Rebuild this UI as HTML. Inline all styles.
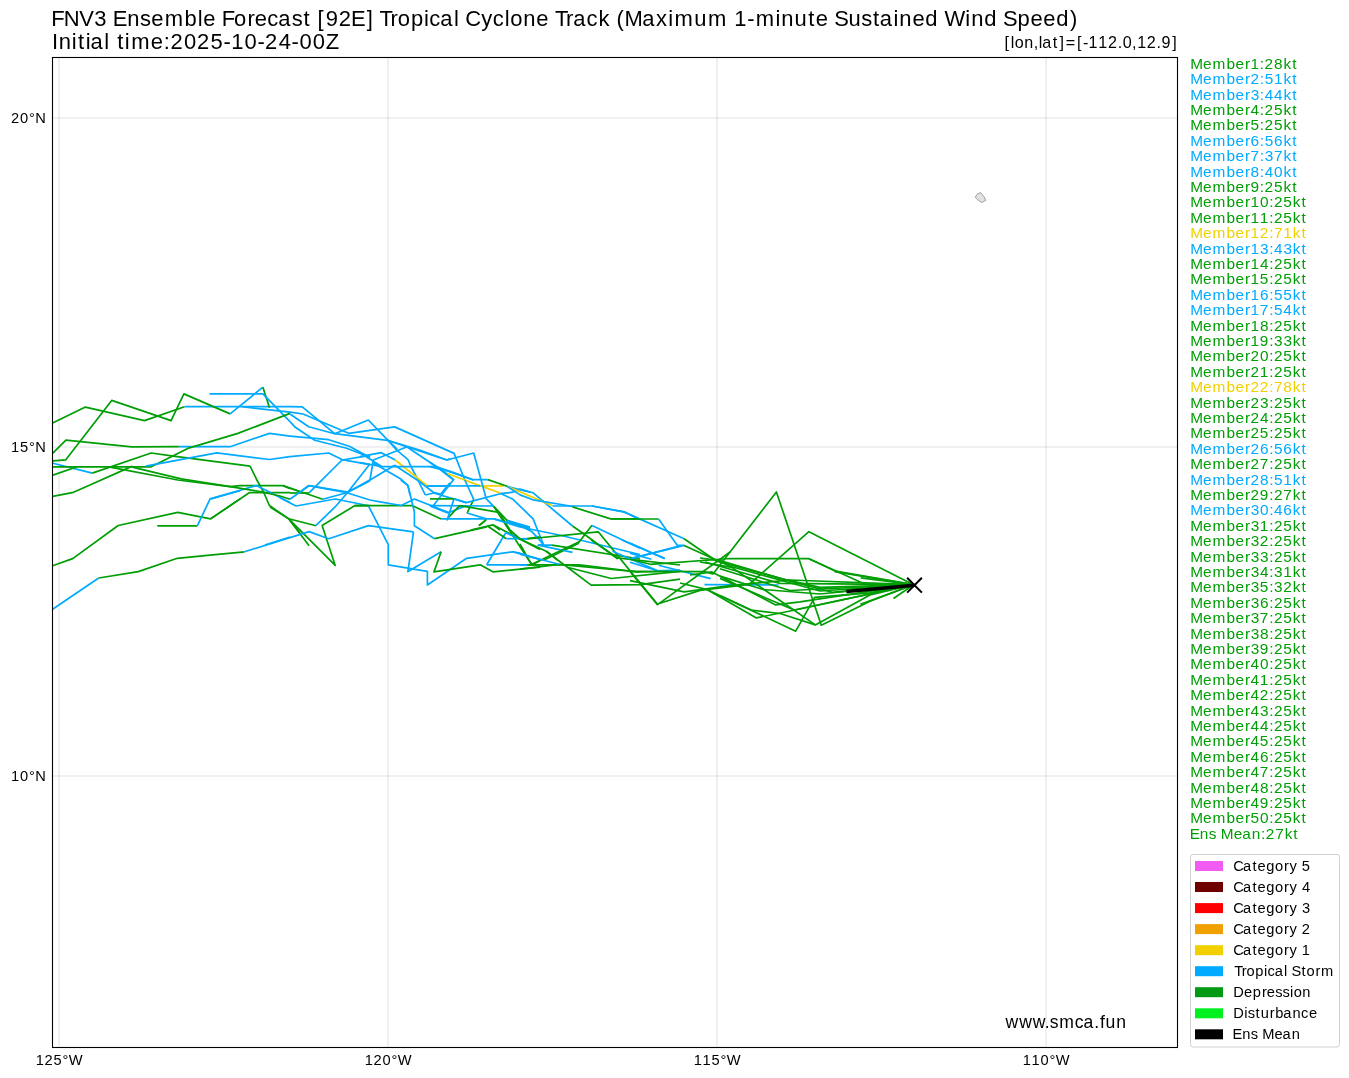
<!DOCTYPE html>
<html><head><meta charset="utf-8"><style>
html,body{margin:0;padding:0;background:#fff;}
svg{display:block;will-change:transform;}
text{font-family:"Liberation Sans",sans-serif;}
</style></head><body>
<svg width="1349" height="1078" viewBox="0 0 1349 1078">
<rect width="1349" height="1078" fill="#fff"/>
<line x1="59" y1="58" x2="59" y2="1047" stroke="#000" stroke-opacity="0.058" stroke-width="2"/>
<line x1="388" y1="58" x2="388" y2="1047" stroke="#000" stroke-opacity="0.058" stroke-width="2"/>
<line x1="717" y1="58" x2="717" y2="1047" stroke="#000" stroke-opacity="0.058" stroke-width="2"/>
<line x1="1046" y1="58" x2="1046" y2="1047" stroke="#000" stroke-opacity="0.058" stroke-width="2"/>
<line x1="53" y1="118" x2="1177" y2="118" stroke="#000" stroke-opacity="0.058" stroke-width="2"/>
<line x1="53" y1="447" x2="1177" y2="447" stroke="#000" stroke-opacity="0.058" stroke-width="2"/>
<line x1="53" y1="776" x2="1177" y2="776" stroke="#000" stroke-opacity="0.058" stroke-width="2"/>
<polygon points="980.4,192.3 984.2,197 985.7,200.4 981.5,202.5 977.3,199.4 975.3,197.3 977,194.3 979.3,193.2" fill="#e2e2e2" stroke="#8a8a8a" stroke-width="0.8"/>
<g fill="none" stroke-width="1.7" stroke-linejoin="round" stroke-linecap="butt"><polyline points="52.6,423.0 85.4,407.1 144.5,420.6 184.5,406.7" stroke="#009e05"/><polyline points="184.5,406.7 290,406.7" stroke="#00aaff"/><polyline points="52.9,460.9 65.8,459.8 111.7,400.4 171.1,420.6 183.9,393.9 230.1,413.9" stroke="#009e05"/><polyline points="230.1,413.9 262.9,387.2" stroke="#00aaff"/><polyline points="262.9,387.2 269.5,407.8" stroke="#009e05"/><polyline points="209.5,393.9 262.9,393.9 290,421.7" stroke="#00aaff"/><polyline points="242.3,406.7 290,412.2" stroke="#00aaff"/><polyline points="52.6,453.4 65.9,440.2 131.7,446.9 178.9,446.7" stroke="#009e05"/><polyline points="178.9,446.7 230.1,446.7 269.5,433.4 290,436.2" stroke="#00aaff"/><polyline points="52.9,463.3 92.3,473.1" stroke="#00aaff"/><polyline points="92.3,473.1 151.1,453.0 173.4,456.1 250.1,466.2" stroke="#009e05"/><polyline points="52.9,466.9 151.2,466.8 187.8,448.4 237.9,433.4 290,413.4" stroke="#009e05"/><polyline points="145.7,466.2 216.7,452.8 269.5,459.5 290,456.7" stroke="#00aaff"/><polyline points="52.9,475.1 76.5,467.0" stroke="#009e05"/><polyline points="90,485 132.3,466.1" stroke="#009e05"/><polyline points="110,467.2 177.8,480 230.1,486.7 240,485.6" stroke="#009e05"/><polyline points="132.3,467.2 181.2,478.9 230.1,486.7" stroke="#009e05"/><polyline points="118.2,525.5 177.8,512.3 210.6,518.9 240,498.9" stroke="#009e05"/><polyline points="157.3,525.8 197.3,525.8" stroke="#009e05"/><polyline points="197.3,525.8 210.1,498.9 240,490.6" stroke="#00aaff"/><polyline points="52.6,496.3 72.3,492.7 90,485" stroke="#009e05"/><polyline points="250.1,466.2 256.9,480 264,493 269.4,505.5 289,519.1" stroke="#009e05"/><polyline points="240,485.6 283,485.6 290,488.8" stroke="#009e05"/><polyline points="210.6,518.9 249.2,492.7 290,492.7" stroke="#009e05"/><polyline points="211,498.9 256.4,485.6 290,502.5" stroke="#00aaff"/><polyline points="265,545 290,537" stroke="#00aaff"/><polyline points="290,406.7 302.3,406.9 334.7,433.7 368.3,420 387.3,439.7 397.3,449.3" stroke="#00aaff"/><polyline points="290,412.2 303,414 348.7,433.3 394.7,426.9 454.1,453.4 464.8,480" stroke="#00aaff"/><polyline points="290,414 308.7,426.7 334.7,433.7 387.3,440.3 418.7,449.7" stroke="#00aaff"/><polyline points="290,421.7 295.3,427.3 314.7,440.3 346.7,448.3 370,457.3" stroke="#00aaff"/><polyline points="290,436.2 328.7,439.7 349.3,446.3 361.3,452.7 370,457.3" stroke="#00aaff"/><polyline points="290,456.7 328.7,453 342,459.6 370,464.7" stroke="#00aaff"/><polyline points="309.3,492.7 342,460 370,455.3" stroke="#00aaff"/><polyline points="369.3,464.7 348,492 370,480" stroke="#00aaff"/><polyline points="301.3,491.3 308.7,485.7 348,492" stroke="#00aaff"/><polyline points="283.3,485.7 300,491.7" stroke="#009e05"/><polyline points="290,493 309.3,493" stroke="#009e05"/><polyline points="387.3,439.7 397.3,450.7 408,459.7 410.7,466 416.7,477.3 425.3,495" stroke="#00aaff"/><polyline points="387.3,440.3 406.7,446.7 446.7,460 450,458.7" stroke="#00aaff"/><polyline points="406.7,446.7 435.3,466 450,476" stroke="#00aaff"/><polyline points="360,456.7 381.3,452.7 395.3,460" stroke="#00aaff"/><polyline points="395.3,460 427.3,486" stroke="#f2d000"/><polyline points="427.3,486 450,486" stroke="#00aaff"/><polyline points="360,452.7 382,466.7 436.7,466.7 450,471.3" stroke="#00aaff"/><polyline points="360,462.7 382,466.7" stroke="#00aaff"/><polyline points="370,480 373.3,460 407.3,446.7" stroke="#00aaff"/><polyline points="360,486 394.7,465.3" stroke="#00aaff"/><polyline points="394.7,465.3 418.7,481 434,492.7 440.7,494" stroke="#00aaff"/><polyline points="373.3,463 401.3,479.3 408,486 410,495" stroke="#00aaff"/><polyline points="450,482.7 440.7,494" stroke="#00aaff"/><polyline points="283.3,485.7 322.7,499.3" stroke="#009e05"/><polyline points="322.7,499.3 346.7,492.7 370,480.7" stroke="#00aaff"/><polyline points="308.7,485.7 346.7,492.7 370,500" stroke="#00aaff"/><polyline points="290,499.3 308.7,485.7" stroke="#00aaff"/><polyline points="230.1,486.7 260,491.5 280,496 290,499.3" stroke="#009e05"/><polyline points="280,497.7 296,506 335.3,499 370,506" stroke="#00aaff"/><polyline points="348,492 335.3,506.7 316,525.3" stroke="#00aaff"/><polyline points="270,507 288.7,518.7 316,525.7" stroke="#009e05"/><polyline points="288.7,518.7 300,533.3" stroke="#009e05"/><polyline points="321.7,525.7 354.7,505.7 370,505.7" stroke="#009e05"/><polyline points="289,519.1 309.1,545.8" stroke="#009e05"/><polyline points="289,519.1 335.2,565.4 322.2,525.7" stroke="#009e05"/><polyline points="52.6,565.7 72.7,558.6 118.2,525.5" stroke="#009e05"/><polyline points="52.6,609.2 98.7,578" stroke="#00aaff"/><polyline points="98.7,578 138.3,571.6 177.3,558.3 210,555.1" stroke="#009e05"/><polyline points="210,555.1 244.5,551.8" stroke="#009e05"/><polyline points="244.5,551.8 309.1,531.6 328.7,538.7 368.5,525.6 413.5,531.8" stroke="#00aaff"/><polyline points="418.7,449.7 447,460 473.7,453 481.1,480" stroke="#00aaff"/><polyline points="430,462.3 437.4,467.1 453.7,480" stroke="#00aaff"/><polyline points="430,466.7 447.8,471.1 473.7,480" stroke="#00aaff"/><polyline points="436.7,466.7 444.8,473 453.7,479.6 433,506" stroke="#00aaff"/><polyline points="447.8,473.7 480.4,485.9 500.4,493" stroke="#f2d000"/><polyline points="480.4,485.9 504.1,485.9" stroke="#f2d000"/><polyline points="427.3,486 480.4,485.9" stroke="#00aaff"/><polyline points="450,471.3 472.6,479.6 487.8,479.6" stroke="#00aaff"/><polyline points="487.8,479.6 507.1,486.3" stroke="#009e05"/><polyline points="507.1,486.3 530,492.2" stroke="#00aaff"/><polyline points="464.8,480 473.7,499.3" stroke="#00aaff"/><polyline points="473.7,499.3 467.1,513" stroke="#009e05"/><polyline points="481.1,480 486.3,498.9 493.7,506.3" stroke="#00aaff"/><polyline points="425.3,495 433.7,493 466.3,502.6 500.4,493.7 513,492.2" stroke="#00aaff"/><polyline points="430,498.9 454.5,498.9" stroke="#009e05"/><polyline points="454.5,498.9 466.3,502.6" stroke="#00aaff"/><polyline points="430,505.6 493.7,506" stroke="#00aaff"/><polyline points="430,506 447.8,513 466.3,505.6" stroke="#00aaff"/><polyline points="459.6,505.6 447.8,518.2" stroke="#009e05"/><polyline points="459.6,505.6 498.9,512.3" stroke="#009e05"/><polyline points="354.7,505.7 412,505.5 441.1,519.1" stroke="#009e05"/><polyline points="441.1,518.9 493.7,518.9 530,527.8" stroke="#00aaff"/><polyline points="453.7,499.7 447,520.4" stroke="#00aaff"/><polyline points="493.7,506.3 507,520.4 530,530" stroke="#009e05"/><polyline points="498.9,512.3 510,530" stroke="#009e05"/><polyline points="467,513 486.3,518.9" stroke="#00aaff"/><polyline points="507,520.4 530,527" stroke="#00aaff"/><polyline points="470.8,530 493,524.9 500,530" stroke="#009e05"/><polyline points="478.9,525.6 486.3,519.7" stroke="#009e05"/><polyline points="370,500 380,501.9 401.3,505.5 414.4,499 448.8,512.6" stroke="#00aaff"/><polyline points="400.8,480 407.9,485.3 414.4,512 414.4,525.7 434.6,538.7" stroke="#00aaff"/><polyline points="434.6,538.7 486.7,526.9" stroke="#009e05"/><polyline points="479,525.7 485.6,520.3" stroke="#009e05"/><polyline points="413.5,531.8 407.9,571.9" stroke="#00aaff"/><polyline points="368.7,506.3 388.3,544.6 388.3,564.8 427.4,571.3 427.4,585 466.6,558.3 512.8,551.8 540,559.5" stroke="#00aaff"/><polyline points="407.3,571.9 441.1,551.8" stroke="#00aaff"/><polyline points="441.1,551.8 434,571.9 480.2,564.8 493.3,571.9 540,567.2" stroke="#009e05"/><polyline points="486.7,564.8 505.7,532.8" stroke="#00aaff"/><polyline points="486.7,564.8 527.1,564.8" stroke="#00aaff"/><polyline points="527.1,564.8 540,564.8" stroke="#009e05"/><polyline points="493.9,506.7 531.8,564.8 540,560.7" stroke="#009e05"/><polyline points="487.9,526.3 506.3,538.7" stroke="#009e05"/><polyline points="506.3,538.7 527.1,538.7" stroke="#00aaff"/><polyline points="527.1,538.7 540,536.9" stroke="#009e05"/><polyline points="493.3,525.1 540,549.4" stroke="#009e05"/><polyline points="513,492.2 520,489.1 532.9,492.7 572.5,526" stroke="#00aaff"/><polyline points="572.5,526 584,534 617.9,559" stroke="#009e05"/><polyline points="507.3,486.5 552.5,505.8" stroke="#f2d000"/><polyline points="552.5,506 592,506 624.1,511.8 640,519.4" stroke="#00aaff"/><polyline points="507.1,486.3 520,494.9 532.9,499.8 573.4,506.5" stroke="#00aaff"/><polyline points="572.5,506.9 610.7,518.9 640,518.9" stroke="#009e05"/><polyline points="500.6,493.4 513,499.3 533.1,518.9 543.1,543.8 538.2,545.2 552,545.2" stroke="#00aaff"/><polyline points="507,520.4 520,525.6 531.6,531.4 543.1,543.8" stroke="#00aaff"/><polyline points="493.7,518.9 520,527 559.1,535 640,554.5" stroke="#00aaff"/><polyline points="527.1,539 598.3,531.8 657.6,604.6" stroke="#009e05"/><polyline points="505.7,532.8 520,539 527.1,539" stroke="#00aaff"/><polyline points="592,525.2 577.8,543.8 544,560" stroke="#009e05"/><polyline points="592,525.6 640,548.3" stroke="#00aaff"/><polyline points="552,545.2 640,559" stroke="#009e05"/><polyline points="510,530 520,539 546.7,551.4 557.4,560" stroke="#009e05"/><polyline points="520,543.8 528.9,560" stroke="#009e05"/><polyline points="512.8,551.8 520,553.2 542.2,560" stroke="#00aaff"/><polyline points="538.2,545.2 572.5,552.3" stroke="#00aaff"/><polyline points="528.9,560 531.9,564.3 579.3,541.8" stroke="#009e05"/><polyline points="546.1,551.3 591.2,585.1 640.6,584.6 680,579.1" stroke="#009e05"/><polyline points="520,564.9 527.1,564.9" stroke="#00aaff"/><polyline points="527.1,564.9 579.3,564.9 638.6,572 680,571" stroke="#009e05"/><polyline points="520,569.1 559.1,564.3 638.6,572" stroke="#009e05"/><polyline points="520,554.2 559.1,564.3" stroke="#00aaff"/><polyline points="591.2,540 617.3,557.8 680,565" stroke="#009e05"/><polyline points="567.4,567.3 611.3,578.5 680,571.4" stroke="#009e05"/><polyline points="622,540 664.7,558.4" stroke="#00aaff"/><polyline points="632.7,558.4 680,545.9" stroke="#00aaff"/><polyline points="612.5,551.3 657.6,570.8 680,570.2" stroke="#00aaff"/><polyline points="592,506 623.8,511.9 684.1,538.8" stroke="#00aaff"/><polyline points="684.1,538.8 716.7,561.2 783,579.1 820,587.3 913.5,584.7" stroke="#009e05"/><polyline points="611.1,519 658.6,519" stroke="#009e05"/><polyline points="658.6,519 677.4,545.4 684.1,545.4 632,558.2" stroke="#00aaff"/><polyline points="684.1,545.4 730,566.3 820,591 913.5,584.7" stroke="#009e05"/><polyline points="630,542.9 664.7,558.7" stroke="#00aaff"/><polyline points="630,553.1 651.4,559.2" stroke="#00aaff"/><polyline points="630,562.2 656.5,570.4" stroke="#00aaff"/><polyline points="658.6,565.3 710.6,578.6" stroke="#00aaff"/><polyline points="704.5,584.7 778.6,585" stroke="#00aaff"/><polyline points="630,571.4 704.5,571.6 713,574 776.4,492 821.3,625.2 870,601.3 913.5,584.7" stroke="#009e05"/><polyline points="630,559.2 650.4,564.3 730,558.5 809,558.7 835.6,571.2 913.5,584.7" stroke="#009e05"/><polyline points="809,558.7 864.6,584 913.5,584.7" stroke="#009e05"/><polyline points="630,571.4 657.6,604.6 730,552" stroke="#009e05"/><polyline points="660,603.2 700,590.4 749,584.5 808.9,531.7 913.5,584.7" stroke="#009e05"/><polyline points="630,580.6 684.1,591.8 730,585.7 790,580 913.5,584.7" stroke="#009e05"/><polyline points="680,583 707.4,589.7 756.4,617.9 800,609 913.5,584.7" stroke="#009e05"/><polyline points="707.4,589.7 795.7,631.2 814.7,597.4 870,592.9 913.5,584.7" stroke="#009e05"/><polyline points="690,575 711.9,571.9 775.7,604.9 800,601.9 913.5,584.7" stroke="#009e05"/><polyline points="700,562 731.9,567.4 815.3,624.9 870,595 913.5,584.7" stroke="#009e05"/><polyline points="700,558 720,560.6 783,579.1 832.2,592.3 913.5,584.7" stroke="#009e05"/><polyline points="705,562 780,583.4 913.5,584.7" stroke="#009e05"/><polyline points="720,568.7 790,590.5 913.5,584.7" stroke="#009e05"/><polyline points="720,576.1 763,589.5 820,594 913.5,584.7" stroke="#009e05"/><polyline points="720,578.4 794.1,610 913.5,584.7" stroke="#009e05"/><polyline points="720,595.4 751.1,610 780,613.5 815.3,624.9" stroke="#009e05"/><polyline points="834.5,571.7 913.5,584.7" stroke="#009e05"/><polyline points="860.7,577.9 913.5,584.7" stroke="#009e05"/><polyline points="893.5,598.5 913.5,584.7" stroke="#009e05"/><polyline points="860.5,604.4 913.5,584.7" stroke="#009e05"/></g>
<line x1="846.3" y1="591.6" x2="914.5" y2="585.2" stroke="#000" stroke-width="3.5"/>
<path d="M907.1,577.8 L921.9,592.6 M907.1,592.6 L921.9,577.8" stroke="#000" stroke-width="2" fill="none"/>
<rect x="52.5" y="57.5" width="1125" height="990" fill="none" stroke="#000" stroke-width="1.1"/>
<text x="51.19 63.79 79.31 94.31 107.29 112.83 127.35 140.10 151.21 164.74 184.61 197.66 203.33 216.07 221.67 233.94 247.44 254.87 267.33 278.28 291.64 303.39 310.85 317.41 325.78 338.83 351.03 366.84 373.40 379.42 390.45 397.80 410.91 423.96 429.27 440.23 453.96 459.56 465.14 481.13 492.78 504.70 510.30 523.32 536.33 549.06 555.08 566.11 573.14 586.41 598.57 610.20 616.41 624.53 642.15 656.05 668.22 674.60 694.29 708.09 727.60 734.36 747.32 755.78 775.49 781.35 794.46 808.20 815.73 828.47 834.22 848.50 861.34 873.09 879.76 893.51 899.37 912.38 925.23 938.34 944.62 965.31 971.17 984.21 997.32 1003.08 1017.54 1030.47 1043.29 1056.14 1069.95" y="25.9" font-size="21.98" fill="#000">FNV3 Ensemble Forecast [92E] Tropical Cyclone Track (Maximum 1-minute Sustained Wind Speed)</text>
<text x="51.97 58.63 71.77 78.07 85.72 90.53 104.27 109.86 117.20 124.86 131.23 150.81 163.75 170.55 184.08 197.06 210.50 223.43 231.24 244.61 257.45 265.11 278.64 291.48 299.41 312.66 325.83" y="48.9" font-size="21.98" fill="#000">Initial time:2025-10-24-00Z</text>
<text x="1004.54 1010.69 1014.80 1024.34 1033.67 1038.82 1042.36 1052.81 1059.43 1065.75 1077.00 1082.89 1088.62 1098.34 1107.95 1117.68 1122.73 1132.11 1137.22 1146.82 1156.55 1161.56 1172.29" y="48.0" font-size="16.12" fill="#000">[lon,lat]=[-112.0,12.9]</text>
<text x="10.91 19.93 28.97 35.27" y="122.8" font-size="14.65" fill="#000">20°N</text>
<text x="11.02 19.88 28.97 35.27" y="451.8" font-size="14.65" fill="#000">15°N</text>
<text x="11.02 19.93 28.97 35.27" y="780.8" font-size="14.65" fill="#000">10°N</text>
<text x="35.68 44.41 53.38 62.48 68.82" y="1065" font-size="14.65" fill="#000">125°W</text>
<text x="364.68 373.41 382.43 391.48 397.82" y="1065" font-size="14.65" fill="#000">120°W</text>
<text x="693.68 702.52 711.38 720.48 726.82" y="1065" font-size="14.65" fill="#000">115°W</text>
<text x="1022.68 1031.52 1040.43 1049.48 1055.82" y="1065" font-size="14.65" fill="#000">110°W</text>
<text x="1190.16 1203.09 1212.56 1226.47 1235.52 1244.97 1250.53 1259.85 1264.61 1274.08 1283.49 1292.13" y="68.8" font-size="15.39" fill="#009e05">Member1:28kt</text>
<text x="1190.16 1203.09 1212.56 1226.47 1235.52 1244.97 1250.42 1259.85 1264.75 1274.00 1283.49 1292.13" y="84.2" font-size="15.39" fill="#00aaff">Member2:51kt</text>
<text x="1190.16 1203.09 1212.56 1226.47 1235.52 1244.97 1250.63 1259.85 1264.80 1274.08 1283.49 1292.13" y="99.6" font-size="15.39" fill="#00aaff">Member3:44kt</text>
<text x="1190.16 1203.09 1212.56 1226.47 1235.52 1244.97 1250.61 1259.85 1264.61 1274.02 1283.49 1292.13" y="115.0" font-size="15.39" fill="#009e05">Member4:25kt</text>
<text x="1190.16 1203.09 1212.56 1226.47 1235.52 1244.97 1250.55 1259.85 1264.61 1274.02 1283.49 1292.13" y="130.4" font-size="15.39" fill="#009e05">Member5:25kt</text>
<text x="1190.16 1203.09 1212.56 1226.47 1235.52 1244.97 1250.61 1259.85 1264.75 1274.08 1283.49 1292.13" y="145.8" font-size="15.39" fill="#00aaff">Member6:56kt</text>
<text x="1190.16 1203.09 1212.56 1226.47 1235.52 1244.97 1250.58 1259.85 1264.82 1274.05 1283.49 1292.13" y="161.2" font-size="15.39" fill="#00aaff">Member7:37kt</text>
<text x="1190.16 1203.09 1212.56 1226.47 1235.52 1244.97 1250.61 1259.85 1264.80 1274.08 1283.49 1292.13" y="176.6" font-size="15.39" fill="#00aaff">Member8:40kt</text>
<text x="1190.16 1203.09 1212.56 1226.47 1235.52 1244.97 1250.56 1259.85 1264.61 1274.02 1283.49 1292.13" y="192.0" font-size="15.39" fill="#009e05">Member9:25kt</text>
<text x="1190.16 1203.09 1212.56 1226.47 1235.52 1244.97 1250.53 1259.89 1269.13 1273.89 1283.30 1292.77 1301.41" y="207.4" font-size="15.39" fill="#009e05">Member10:25kt</text>
<text x="1190.16 1203.09 1212.56 1226.47 1235.52 1244.97 1250.53 1259.81 1269.13 1273.89 1283.30 1292.77 1301.41" y="222.8" font-size="15.39" fill="#009e05">Member11:25kt</text>
<text x="1190.16 1203.09 1212.56 1226.47 1235.52 1244.97 1250.53 1259.70 1269.13 1274.05 1283.28 1292.77 1301.41" y="238.2" font-size="15.39" fill="#f2d000">Member12:71kt</text>
<text x="1190.16 1203.09 1212.56 1226.47 1235.52 1244.97 1250.53 1259.91 1269.13 1274.08 1283.38 1292.77 1301.41" y="253.6" font-size="15.39" fill="#00aaff">Member13:43kt</text>
<text x="1190.16 1203.09 1212.56 1226.47 1235.52 1244.97 1250.53 1259.89 1269.13 1273.89 1283.30 1292.77 1301.41" y="269.0" font-size="15.39" fill="#009e05">Member14:25kt</text>
<text x="1190.16 1203.09 1212.56 1226.47 1235.52 1244.97 1250.53 1259.83 1269.13 1273.89 1283.30 1292.77 1301.41" y="284.4" font-size="15.39" fill="#009e05">Member15:25kt</text>
<text x="1190.16 1203.09 1212.56 1226.47 1235.52 1244.97 1250.53 1259.89 1269.13 1274.02 1283.30 1292.77 1301.41" y="299.8" font-size="15.39" fill="#00aaff">Member16:55kt</text>
<text x="1190.16 1203.09 1212.56 1226.47 1235.52 1244.97 1250.53 1259.86 1269.13 1274.02 1283.36 1292.77 1301.41" y="315.2" font-size="15.39" fill="#00aaff">Member17:54kt</text>
<text x="1190.16 1203.09 1212.56 1226.47 1235.52 1244.97 1250.53 1259.89 1269.13 1273.89 1283.30 1292.77 1301.41" y="330.6" font-size="15.39" fill="#009e05">Member18:25kt</text>
<text x="1190.16 1203.09 1212.56 1226.47 1235.52 1244.97 1250.53 1259.84 1269.13 1274.10 1283.38 1292.77 1301.41" y="346.0" font-size="15.39" fill="#009e05">Member19:33kt</text>
<text x="1190.16 1203.09 1212.56 1226.47 1235.52 1244.97 1250.42 1259.89 1269.13 1273.89 1283.30 1292.77 1301.41" y="361.4" font-size="15.39" fill="#009e05">Member20:25kt</text>
<text x="1190.16 1203.09 1212.56 1226.47 1235.52 1244.97 1250.42 1259.81 1269.13 1273.89 1283.30 1292.77 1301.41" y="376.8" font-size="15.39" fill="#009e05">Member21:25kt</text>
<text x="1190.16 1203.09 1212.56 1226.47 1235.52 1244.97 1250.42 1259.70 1269.13 1274.05 1283.36 1292.77 1301.41" y="392.2" font-size="15.39" fill="#f2d000">Member22:78kt</text>
<text x="1190.16 1203.09 1212.56 1226.47 1235.52 1244.97 1250.42 1259.91 1269.13 1273.89 1283.30 1292.77 1301.41" y="407.6" font-size="15.39" fill="#009e05">Member23:25kt</text>
<text x="1190.16 1203.09 1212.56 1226.47 1235.52 1244.97 1250.42 1259.89 1269.13 1273.89 1283.30 1292.77 1301.41" y="423.0" font-size="15.39" fill="#009e05">Member24:25kt</text>
<text x="1190.16 1203.09 1212.56 1226.47 1235.52 1244.97 1250.42 1259.83 1269.13 1273.89 1283.30 1292.77 1301.41" y="438.4" font-size="15.39" fill="#009e05">Member25:25kt</text>
<text x="1190.16 1203.09 1212.56 1226.47 1235.52 1244.97 1250.42 1259.89 1269.13 1274.02 1283.36 1292.77 1301.41" y="453.8" font-size="15.39" fill="#00aaff">Member26:56kt</text>
<text x="1190.16 1203.09 1212.56 1226.47 1235.52 1244.97 1250.42 1259.86 1269.13 1273.89 1283.30 1292.77 1301.41" y="469.2" font-size="15.39" fill="#009e05">Member27:25kt</text>
<text x="1190.16 1203.09 1212.56 1226.47 1235.52 1244.97 1250.42 1259.89 1269.13 1274.02 1283.28 1292.77 1301.41" y="484.6" font-size="15.39" fill="#00aaff">Member28:51kt</text>
<text x="1190.16 1203.09 1212.56 1226.47 1235.52 1244.97 1250.42 1259.84 1269.13 1273.89 1283.33 1292.77 1301.41" y="500.0" font-size="15.39" fill="#009e05">Member29:27kt</text>
<text x="1190.16 1203.09 1212.56 1226.47 1235.52 1244.97 1250.63 1259.89 1269.13 1274.08 1283.36 1292.77 1301.41" y="515.4" font-size="15.39" fill="#00aaff">Member30:46kt</text>
<text x="1190.16 1203.09 1212.56 1226.47 1235.52 1244.97 1250.63 1259.81 1269.13 1273.89 1283.30 1292.77 1301.41" y="530.8" font-size="15.39" fill="#009e05">Member31:25kt</text>
<text x="1190.16 1203.09 1212.56 1226.47 1235.52 1244.97 1250.63 1259.70 1269.13 1273.89 1283.30 1292.77 1301.41" y="546.2" font-size="15.39" fill="#009e05">Member32:25kt</text>
<text x="1190.16 1203.09 1212.56 1226.47 1235.52 1244.97 1250.63 1259.91 1269.13 1273.89 1283.30 1292.77 1301.41" y="561.6" font-size="15.39" fill="#009e05">Member33:25kt</text>
<text x="1190.16 1203.09 1212.56 1226.47 1235.52 1244.97 1250.63 1259.89 1269.13 1274.10 1283.28 1292.77 1301.41" y="577.0" font-size="15.39" fill="#009e05">Member34:31kt</text>
<text x="1190.16 1203.09 1212.56 1226.47 1235.52 1244.97 1250.63 1259.83 1269.13 1274.10 1283.17 1292.77 1301.41" y="592.4" font-size="15.39" fill="#009e05">Member35:32kt</text>
<text x="1190.16 1203.09 1212.56 1226.47 1235.52 1244.97 1250.63 1259.89 1269.13 1273.89 1283.30 1292.77 1301.41" y="607.8" font-size="15.39" fill="#009e05">Member36:25kt</text>
<text x="1190.16 1203.09 1212.56 1226.47 1235.52 1244.97 1250.63 1259.86 1269.13 1273.89 1283.30 1292.77 1301.41" y="623.2" font-size="15.39" fill="#009e05">Member37:25kt</text>
<text x="1190.16 1203.09 1212.56 1226.47 1235.52 1244.97 1250.63 1259.89 1269.13 1273.89 1283.30 1292.77 1301.41" y="638.6" font-size="15.39" fill="#009e05">Member38:25kt</text>
<text x="1190.16 1203.09 1212.56 1226.47 1235.52 1244.97 1250.63 1259.84 1269.13 1273.89 1283.30 1292.77 1301.41" y="654.0" font-size="15.39" fill="#009e05">Member39:25kt</text>
<text x="1190.16 1203.09 1212.56 1226.47 1235.52 1244.97 1250.61 1259.89 1269.13 1273.89 1283.30 1292.77 1301.41" y="669.4" font-size="15.39" fill="#009e05">Member40:25kt</text>
<text x="1190.16 1203.09 1212.56 1226.47 1235.52 1244.97 1250.61 1259.81 1269.13 1273.89 1283.30 1292.77 1301.41" y="684.8" font-size="15.39" fill="#009e05">Member41:25kt</text>
<text x="1190.16 1203.09 1212.56 1226.47 1235.52 1244.97 1250.61 1259.70 1269.13 1273.89 1283.30 1292.77 1301.41" y="700.2" font-size="15.39" fill="#009e05">Member42:25kt</text>
<text x="1190.16 1203.09 1212.56 1226.47 1235.52 1244.97 1250.61 1259.91 1269.13 1273.89 1283.30 1292.77 1301.41" y="715.6" font-size="15.39" fill="#009e05">Member43:25kt</text>
<text x="1190.16 1203.09 1212.56 1226.47 1235.52 1244.97 1250.61 1259.89 1269.13 1273.89 1283.30 1292.77 1301.41" y="731.0" font-size="15.39" fill="#009e05">Member44:25kt</text>
<text x="1190.16 1203.09 1212.56 1226.47 1235.52 1244.97 1250.61 1259.83 1269.13 1273.89 1283.30 1292.77 1301.41" y="746.4" font-size="15.39" fill="#009e05">Member45:25kt</text>
<text x="1190.16 1203.09 1212.56 1226.47 1235.52 1244.97 1250.61 1259.89 1269.13 1273.89 1283.30 1292.77 1301.41" y="761.8" font-size="15.39" fill="#009e05">Member46:25kt</text>
<text x="1190.16 1203.09 1212.56 1226.47 1235.52 1244.97 1250.61 1259.86 1269.13 1273.89 1283.30 1292.77 1301.41" y="777.2" font-size="15.39" fill="#009e05">Member47:25kt</text>
<text x="1190.16 1203.09 1212.56 1226.47 1235.52 1244.97 1250.61 1259.89 1269.13 1273.89 1283.30 1292.77 1301.41" y="792.6" font-size="15.39" fill="#009e05">Member48:25kt</text>
<text x="1190.16 1203.09 1212.56 1226.47 1235.52 1244.97 1250.61 1259.84 1269.13 1273.89 1283.30 1292.77 1301.41" y="808.0" font-size="15.39" fill="#009e05">Member49:25kt</text>
<text x="1190.16 1203.09 1212.56 1226.47 1235.52 1244.97 1250.55 1259.89 1269.13 1273.89 1283.30 1292.77 1301.41" y="823.4" font-size="15.39" fill="#009e05">Member50:25kt</text>
<text x="1189.69 1199.86 1208.78 1216.50 1220.85 1233.78 1242.15 1251.82 1261.01 1265.77 1275.21 1284.65 1293.29" y="838.8" font-size="15.39" fill="#009e05">Ens Mean:27kt</text>
<text x="1005.56 1019.19 1032.82 1044.66 1049.83 1059.28 1074.67 1083.43 1094.26 1100.06 1105.58 1116.22" y="1027.8" font-size="17.58" fill="#000">www.smca.fun</text>
<rect x="1190.5" y="854.5" width="149" height="192.5" rx="2.5" fill="#fff" stroke="#d0d0d0" stroke-width="1"/>
<rect x="1195" y="861.0" width="28" height="10" fill="#f25cf2"/>
<text x="1233.20 1243.07 1252.58 1257.60 1266.17 1274.92 1283.92 1289.39 1297.34 1301.87" y="870.8" font-size="14.65" fill="#000">Category 5</text>
<rect x="1195" y="882.0" width="28" height="10" fill="#6e0000"/>
<text x="1233.20 1243.07 1252.58 1257.60 1266.17 1274.92 1283.92 1289.39 1297.34 1301.92" y="891.8" font-size="14.65" fill="#000">Category 4</text>
<rect x="1195" y="903.1" width="28" height="10" fill="#ff0000"/>
<text x="1233.20 1243.07 1252.58 1257.60 1266.17 1274.92 1283.92 1289.39 1297.34 1301.94" y="912.9" font-size="14.65" fill="#000">Category 3</text>
<rect x="1195" y="924.1" width="28" height="10" fill="#f0a000"/>
<text x="1233.20 1243.07 1252.58 1257.60 1266.17 1274.92 1283.92 1289.39 1297.34 1301.74" y="933.9" font-size="14.65" fill="#000">Category 2</text>
<rect x="1195" y="945.2" width="28" height="10" fill="#f2d000"/>
<text x="1233.20 1243.07 1252.58 1257.60 1266.17 1274.92 1283.92 1289.39 1297.34 1301.85" y="955.0" font-size="14.65" fill="#000">Category 1</text>
<rect x="1195" y="966.2" width="28" height="10" fill="#00aaff"/>
<text x="1234.31 1241.67 1246.57 1255.31 1264.01 1267.55 1274.86 1284.01 1287.74 1291.58 1301.45 1306.43 1315.43 1320.91" y="976.0" font-size="14.65" fill="#000">Tropical Storm</text>
<rect x="1195" y="987.2" width="28" height="10" fill="#009a14"/>
<text x="1233.21 1244.06 1252.80 1261.88 1266.83 1275.20 1282.44 1289.93 1293.66 1302.33" y="997.0" font-size="14.65" fill="#000">Depression</text>
<rect x="1195" y="1008.3" width="28" height="10" fill="#00f020"/>
<text x="1233.21 1244.14 1247.74 1255.58 1260.67 1269.86 1275.31 1283.36 1292.57 1301.01 1308.88" y="1018.1" font-size="14.65" fill="#000">Disturbance</text>
<rect x="1195" y="1029.3" width="28" height="10" fill="#000000"/>
<text x="1232.59 1242.27 1250.77 1258.12 1262.26 1274.58 1282.55 1291.77" y="1039.1" font-size="14.65" fill="#000">Ens Mean</text>
</svg></body></html>
